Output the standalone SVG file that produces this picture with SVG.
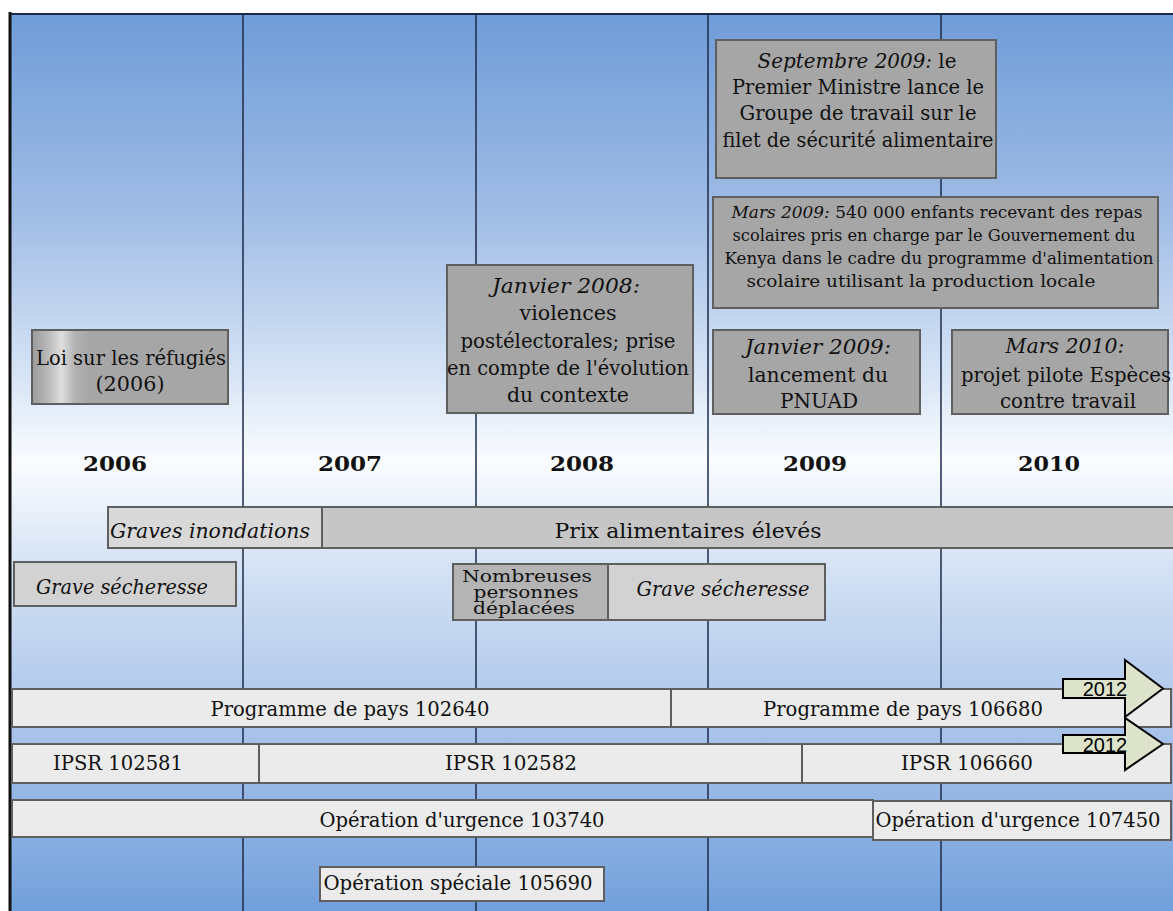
<svg xmlns="http://www.w3.org/2000/svg" width="1173" height="911" viewBox="0 0 1173 911">
<defs>
<linearGradient id="bg" x1="0" y1="14" x2="0" y2="911" gradientUnits="userSpaceOnUse">
<stop offset="0" stop-color="#6f9cd8"/>
<stop offset="0.22" stop-color="#9fbce5"/>
<stop offset="0.4" stop-color="#d6e3f5"/>
<stop offset="0.5" stop-color="#fafcff"/>
<stop offset="0.62" stop-color="#d3e1f4"/>
<stop offset="0.8" stop-color="#a8c3ea"/>
<stop offset="1" stop-color="#72a0db"/>
</linearGradient>
<linearGradient id="metal" x1="32" y1="0" x2="228" y2="0" gradientUnits="userSpaceOnUse">
<stop offset="0" stop-color="#9a9a9a"/>
<stop offset="0.08" stop-color="#b8b8b8"/>
<stop offset="0.15" stop-color="#dedede"/>
<stop offset="0.22" stop-color="#b2b2b2"/>
<stop offset="0.3" stop-color="#a6a6a6"/>
<stop offset="1" stop-color="#a6a6a6"/>
</linearGradient>
<style>
.ev{fill:#a6a6a6;stroke:#5f5f5f;stroke-width:2}
.bar{fill:#ebebeb;stroke:#5f5f5f;stroke-width:2}
.t{font-family:"DejaVu Serif","Liberation Serif",serif;fill:#111;text-anchor:middle}
.i{font-style:italic}
.yr{font-weight:bold;font-size:20px}
.grid{stroke:#1c2b4a;stroke-width:1.5}
.arr{fill:#dde3cb;stroke:#000;stroke-width:2}
.a{font-family:"Liberation Sans",Arial,sans-serif;font-size:20px;fill:#000;text-anchor:middle}
</style>
</defs>
<rect x="10" y="14" width="1163" height="897" fill="url(#bg)"/>
<g id="connectors">
<line class="grid" x1="243" y1="14" x2="243" y2="911"/>
<line class="grid" x1="476" y1="14" x2="476" y2="911"/>
<line class="grid" x1="708" y1="14" x2="708" y2="911"/>
<line class="grid" x1="941" y1="14" x2="941" y2="911"/>
<line x1="10" y1="14" x2="1173" y2="14" stroke="#1c2b4a" stroke-width="2"/>
<line x1="10" y1="12" x2="10" y2="911" stroke="#111" stroke-width="3"/>
</g>
<g id="years" class="t">
<text class="yr" x="115" y="471" textLength="64" lengthAdjust="spacingAndGlyphs">2006</text>
<text class="yr" x="350" y="471" textLength="64" lengthAdjust="spacingAndGlyphs">2007</text>
<text class="yr" x="582" y="471" textLength="64" lengthAdjust="spacingAndGlyphs">2008</text>
<text class="yr" x="815" y="471" textLength="64" lengthAdjust="spacingAndGlyphs">2009</text>
<text class="yr" x="1049" y="471" textLength="62" lengthAdjust="spacingAndGlyphs">2010</text>
</g>
<g id="sept2009">
<rect class="ev" x="716" y="40" width="280" height="138"/>
<g class="t" font-size="19.5">
<text x="857" y="68" textLength="199" lengthAdjust="spacingAndGlyphs"><tspan class="i">Septembre 2009:</tspan> le</text>
<text x="858" y="94" textLength="252" lengthAdjust="spacingAndGlyphs">Premier Ministre lance le</text>
<text x="858" y="120" textLength="237" lengthAdjust="spacingAndGlyphs">Groupe de travail sur le</text>
<text x="858" y="147" textLength="271" lengthAdjust="spacingAndGlyphs">filet de sécurité alimentaire</text>
</g>
</g>
<g id="mars2009">
<rect class="ev" x="713" y="197" width="445" height="111"/>
<g class="t" font-size="17">
<text x="937" y="218" textLength="411" lengthAdjust="spacingAndGlyphs"><tspan class="i">Mars 2009:</tspan> 540 000 enfants recevant des repas</text>
<text x="934" y="241" textLength="403" lengthAdjust="spacingAndGlyphs">scolaires pris en charge par le Gouvernement  du</text>
<text x="939" y="264" textLength="429" lengthAdjust="spacingAndGlyphs">Kenya dans le cadre du programme d'alimentation</text>
<text x="921" y="287" textLength="349" lengthAdjust="spacingAndGlyphs">scolaire utilisant la production locale</text>
</g>
</g>
<g id="jan2008">
<rect class="ev" x="447" y="265" width="246" height="148"/>
<g class="t" font-size="20">
<text class="i" x="566" y="293" textLength="148" lengthAdjust="spacingAndGlyphs">Janvier 2008:</text>
<text x="568" y="320" textLength="97" lengthAdjust="spacingAndGlyphs">violences</text>
<text x="568" y="348" textLength="215" lengthAdjust="spacingAndGlyphs">postélectorales; prise</text>
<text x="568" y="375" textLength="242" lengthAdjust="spacingAndGlyphs">en compte de l'évolution</text>
<text x="568" y="402" textLength="122" lengthAdjust="spacingAndGlyphs">du contexte</text>
</g>
</g>
<g id="jan2009">
<rect class="ev" x="713" y="330" width="207" height="84"/>
<g class="t" font-size="20">
<text class="i" x="818" y="354" textLength="146" lengthAdjust="spacingAndGlyphs">Janvier 2009:</text>
<text x="818" y="382" textLength="140" lengthAdjust="spacingAndGlyphs">lancement du</text>
<text x="819" y="408" textLength="78" lengthAdjust="spacingAndGlyphs">PNUAD</text>
</g>
</g>
<g id="mars2010">
<rect class="ev" x="952" y="330" width="216" height="84"/>
<g class="t" font-size="20">
<text class="i" x="1065" y="353" textLength="119" lengthAdjust="spacingAndGlyphs">Mars 2010:</text>
<text x="1066" y="382" textLength="210" lengthAdjust="spacingAndGlyphs">projet pilote Espèces</text>
<text x="1068" y="408" textLength="136" lengthAdjust="spacingAndGlyphs">contre travail</text>
</g>
</g>
<g id="loi2006">
<rect x="32" y="330" width="196" height="74" fill="url(#metal)" stroke="#5f5f5f" stroke-width="2"/>
<g class="t" font-size="20">
<text x="131" y="365" textLength="190" lengthAdjust="spacingAndGlyphs">Loi sur les réfugiés</text>
<text x="130" y="391" textLength="69" lengthAdjust="spacingAndGlyphs">(2006)</text>
</g>
</g>
<g id="inondations">
<rect x="108" y="507" width="214" height="41" fill="#d9d9d9" stroke="#5f5f5f" stroke-width="2"/>
<text class="t i" font-size="21" x="210" y="538" textLength="200" lengthAdjust="spacingAndGlyphs">Graves inondations</text>
</g>
<g id="prix">
<rect x="322" y="507" width="860" height="41" fill="#c6c6c6" stroke="#5f5f5f" stroke-width="2"/>
<text class="t" font-size="21" x="688" y="538" textLength="267" lengthAdjust="spacingAndGlyphs">Prix alimentaires élevés</text>
</g>
<g id="secheresse2006">
<rect x="14" y="562" width="222" height="44" fill="#d2d2d2" stroke="#5f5f5f" stroke-width="2"/>
<text class="t i" font-size="21" x="122" y="594" textLength="172" lengthAdjust="spacingAndGlyphs">Grave sécheresse</text>
</g>
<g id="deplacees">
<rect x="453" y="564" width="155" height="56" fill="#b4b4b4" stroke="#5f5f5f" stroke-width="2"/>
<g class="t" font-size="16">
<text x="527" y="582" textLength="130" lengthAdjust="spacingAndGlyphs">Nombreuses</text>
<text x="526" y="598" textLength="105" lengthAdjust="spacingAndGlyphs">personnes</text>
<text x="524" y="614" textLength="102" lengthAdjust="spacingAndGlyphs">déplacées</text>
</g>
</g>
<g id="secheresse2008">
<rect x="608" y="564" width="217" height="56" fill="#d2d2d2" stroke="#5f5f5f" stroke-width="2"/>
<text class="t i" font-size="21" x="723" y="596" textLength="173" lengthAdjust="spacingAndGlyphs">Grave sécheresse</text>
</g>
<g id="pp102640">
<rect class="bar" x="12" y="689" width="659" height="38"/>
<text class="t" font-size="20" x="350" y="716" textLength="279" lengthAdjust="spacingAndGlyphs">Programme de pays 102640</text>
</g>
<g id="pp106680">
<rect class="bar" x="671" y="689" width="500" height="38"/>
<text class="t" font-size="20" x="903" y="716" textLength="280" lengthAdjust="spacingAndGlyphs">Programme de pays 106680</text>
</g>
<g id="ipsr102581">
<rect class="bar" x="12" y="744" width="247" height="39"/>
<text class="t" font-size="20" x="118" y="770" textLength="130" lengthAdjust="spacingAndGlyphs">IPSR 102581</text>
</g>
<g id="ipsr102582">
<rect class="bar" x="259" y="744" width="543" height="39"/>
<text class="t" font-size="20" x="511" y="770" textLength="132" lengthAdjust="spacingAndGlyphs">IPSR 102582</text>
</g>
<g id="ipsr106660">
<rect class="bar" x="802" y="744" width="369" height="39"/>
<text class="t" font-size="20" x="967" y="770" textLength="132" lengthAdjust="spacingAndGlyphs">IPSR 106660</text>
</g>
<g id="ou103740">
<rect class="bar" x="12" y="800" width="861" height="37"/>
<text class="t" font-size="20" x="462" y="827" textLength="285" lengthAdjust="spacingAndGlyphs">Opération d'urgence 103740</text>
</g>
<g id="ou107450">
<rect class="bar" x="873" y="801" width="298" height="39"/>
<text class="t" font-size="20" x="1018" y="827" textLength="285" lengthAdjust="spacingAndGlyphs">Opération d'urgence 107450</text>
</g>
<g id="os105690">
<rect class="bar" x="320" y="867" width="284" height="34"/>
<text class="t" font-size="20" x="458" y="890" textLength="269" lengthAdjust="spacingAndGlyphs">Opération spéciale 105690</text>
</g>
<g id="arrow1">
<polygon class="arr" points="1063,679 1125,679 1125,660 1163,688.5 1125,717 1125,698 1063,698"/>
<text class="a" x="1105" y="696">2012</text>
</g>
<g id="arrow2">
<polygon class="arr" points="1063,735 1125,735 1125,718 1163,744 1125,770 1125,753 1063,753"/>
<text class="a" x="1105" y="752">2012</text>
</g>
</svg>
